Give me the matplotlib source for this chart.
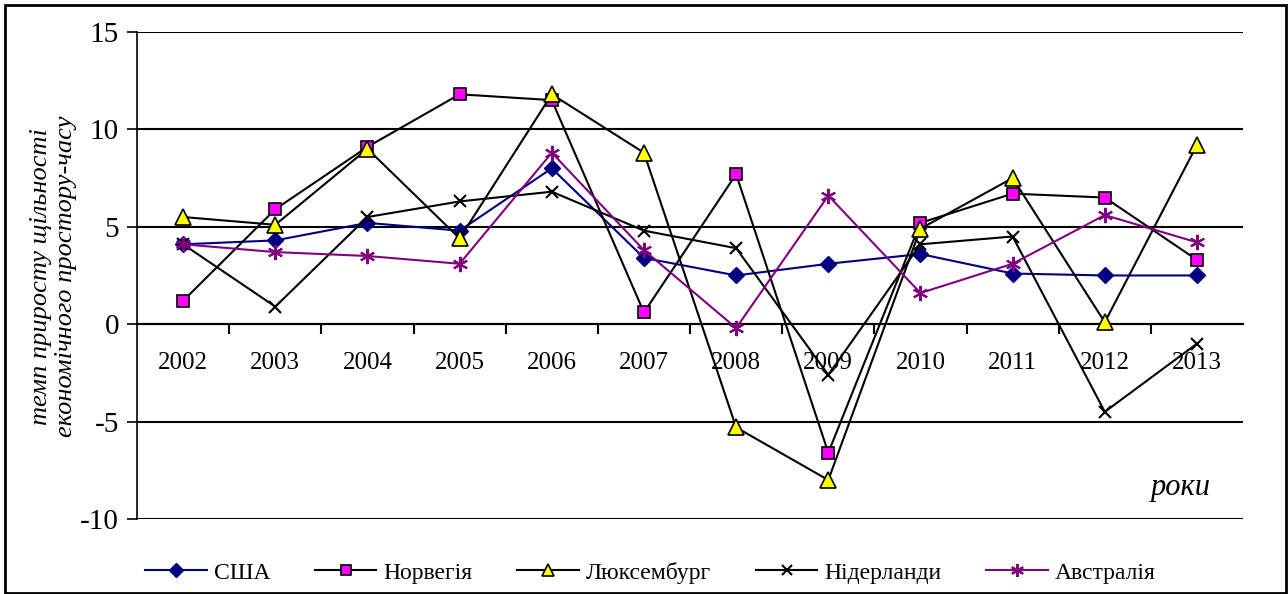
import numpy as np
import matplotlib.pyplot as plt
from matplotlib.patches import Rectangle

plt.rcParams['font.family'] = ['Liberation Serif', 'DejaVu Serif']

years = ['2002', '2003', '2004', '2005', '2006', '2007',
         '2008', '2009', '2010', '2011', '2012', '2013']

usa = [4.1, 4.3, 5.2, 4.8, 8.0, 3.4, 2.5, 3.1, 3.6, 2.6, 2.5, 2.5]
norway = [1.2, 5.9, 9.1, 11.8, 11.5, 0.6, 7.7, -6.6, 5.2, 6.7, 6.5, 3.3]
luxembourg = [5.5, 5.1, 9.0, 4.4, 11.8, 8.8, -5.3, -8.0, 4.9, 7.5, 0.1, 9.2]
netherlands = [4.1, 0.9, 5.5, 6.3, 6.8, 4.8, 3.9, -2.6, 4.1, 4.5, -4.5, -1.0]
australia = [4.1, 3.7, 3.5, 3.1, 8.8, 3.8, -0.2, 6.6, 1.6, 3.1, 5.6, 4.2]

labels = ['США', 'Норвегія', 'Люксембург', 'Нідерланди', 'Австралія']

fig = plt.figure(figsize=(12.88, 5.94), dpi=100)
ax = fig.add_axes([0.1064, 0.1263, 0.8587, 0.8199])
x = np.arange(len(years))

ax.plot(x, usa, color='#000080', lw=1.5, marker='D', ms=8,
        mfc='#000080', mec='#000080', label=labels[0], zorder=3)
ax.plot(x, norway, color='black', lw=1.5, marker='s', ms=9,
        mfc='#ff00ff', mec='black', mew=1.2, label=labels[1], zorder=4)
ax.plot(x, luxembourg, color='black', lw=1.5, marker='^', ms=11,
        mfc='#ffff00', mec='black', mew=1.2, label=labels[2], zorder=5)
ax.plot(x, netherlands, color='black', lw=1.5, marker='x', ms=9,
        mew=1.5, label=labels[3], zorder=6)
ax.plot(x, australia, color='#800080', lw=1.5, marker=(6, 2, 0), ms=11,
        mew=1.5, mec='#800080', label=labels[4], zorder=7)

ax.set_xlim(-0.5, 11.5)
ax.set_ylim(-10, 15)
ax.set_yticks([-10, -5, 0, 5, 10, 15])
ax.set_yticklabels(['-10', '-5', '0', '5', '10', '15'], fontsize=21)
ax.tick_params(axis='y', direction='out', length=7, width=1.2, pad=6)
ax.yaxis.grid(True, color='black', lw=1.5)
ax.set_axisbelow(True)

ax.spines['bottom'].set_position(('data', 0))
ax.spines['bottom'].set_linewidth(1.5)
ax.spines['left'].set_linewidth(1.2)
ax.spines['top'].set_visible(False)
ax.spines['right'].set_visible(False)
ax.set_xticks(x)
ax.set_xticklabels(years, fontsize=18)
ax.set_xticks(np.arange(0.5, 11, 1), minor=True)
ax.tick_params(axis='x', which='major', length=0, pad=20)
ax.tick_params(axis='x', which='minor', direction='out', length=7, width=1.5)

ax.text(0.0415, 0.535, 'темп приросту щільності\nекономічного простору-часу',
        transform=fig.transFigure, rotation=90, ha='center', va='center',
        fontsize=19, style='italic', linespacing=1.2)
ax.text(0.917, 0.18, 'роки', transform=fig.transFigure, ha='center',
        va='center', fontsize=22, style='italic')

fig.legend(loc='center', bbox_to_anchor=(0.505, 0.036), ncol=5, frameon=False,
           fontsize=17, handlelength=2.6, columnspacing=1.9, handletextpad=0.3,
           markerscale=0.85)

fig.patches.append(Rectangle((0.004, 0.002), 0.9945, 0.99, transform=fig.transFigure,
                             fill=False, edgecolor='black', lw=2))

fig.savefig('out.png', dpi=100)
